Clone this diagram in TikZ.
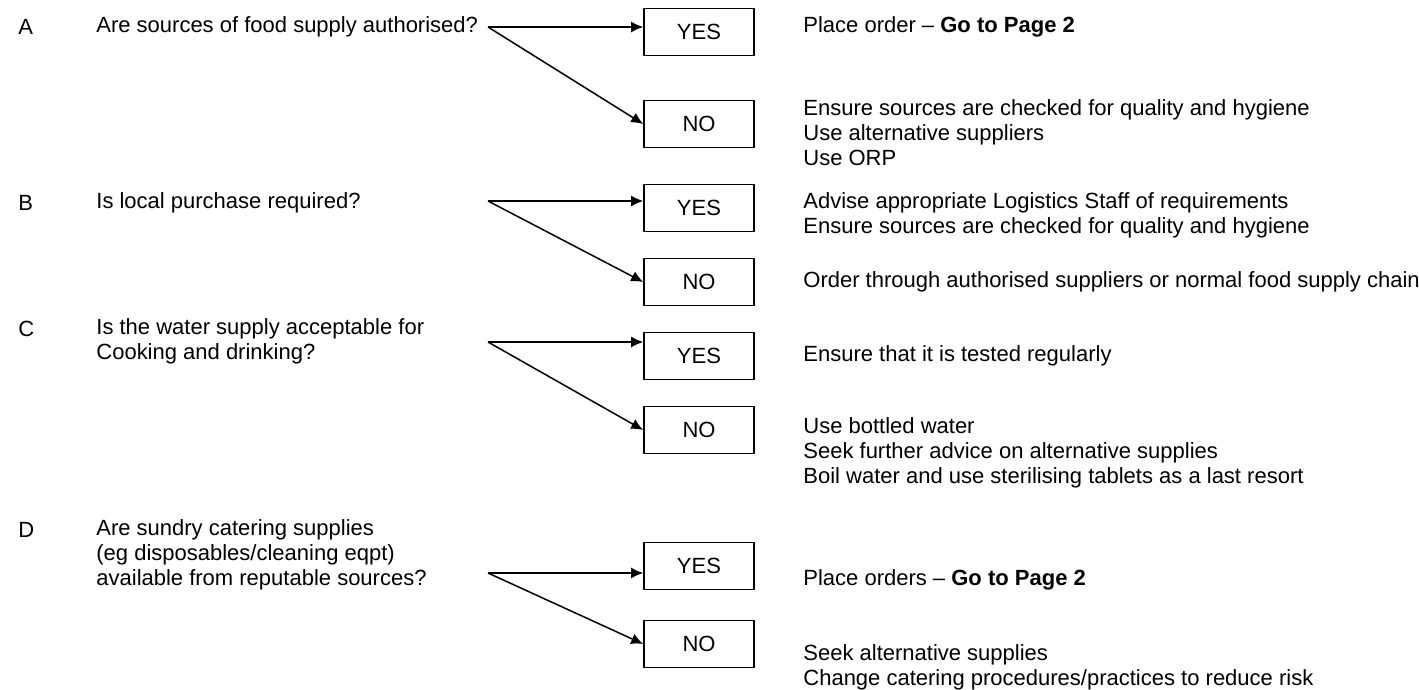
\documentclass[tikz,border=0pt]{standalone}
\usepackage{fontspec}
\setmainfont{Liberation Sans}
\usetikzlibrary{arrows.meta}

\begin{document}
\begin{tikzpicture}[x=0.5pt,y=-0.5pt,
	font=\fontsize{11}{12.5}\selectfont,
	txt/.style={anchor=west,inner sep=0pt,align=left},
	answer/.style={draw,line width=0.8pt,minimum width=55pt,minimum height=23.5pt,inner sep=0pt},
	branch/.style={line width=0.75pt,-{Latex[length=6pt,width=5.5pt]}}]
	\useasboundingbox (0,0) rectangle (1419,690);
	% A
	\node[txt] (la) at (18,27) {A};
	\node[txt] (qa) at (96,27) {Are sources of food supply authorised?};
	\coordinate (sa) at (488,27);
	\node[answer] (ya) at (699,32) {YES};
	\node[answer] (na) at (699,124) {NO};
	\node[txt] (ra) at (803,27) {Place order -- \textbf{Go to Page 2}};
	\node[txt] (ra2) at (803,133) {Ensure sources are checked for quality and hygiene\\Use alternative suppliers\\Use ORP};
	\draw[branch] (sa) -- (sa -| ya.west);
	\draw[branch] (sa) -- (na.west);
	% B
	\node[txt] (lb) at (18,203) {B};
	\node[txt] (qb) at (96,203) {Is local purchase required?};
	\coordinate (sb) at (488,201);
	\node[answer] (yb) at (699,208) {YES};
	\node[answer] (nb) at (699,282) {NO};
	\node[txt] (rb) at (803,215) {Advise appropriate Logistics Staff of requirements\\Ensure sources are checked for quality and hygiene};
	\node[txt] (rb2) at (803,282) {Order through authorised suppliers or normal food supply chain};
	\draw[branch] (sb) -- (sb -| yb.west);
	\draw[branch] (sb) -- (nb.west);
	% C
	\node[txt] (lc) at (18,329) {C};
	\node[txt] (qc) at (96,341.5) {Is the water supply acceptable for\\Cooking and drinking?};
	\coordinate (sc) at (488,342);
	\node[answer] (yc) at (699,356) {YES};
	\node[answer] (nc) at (699,430) {NO};
	\node[txt] (rc) at (803,356) {Ensure that it is tested regularly};
	\node[txt] (rc2) at (803,453) {Use bottled water\\Seek further advice on alternative supplies\\Boil water and use sterilising tablets as a last resort};
	\draw[branch] (sc) -- (sc -| yc.west);
	\draw[branch] (sc) -- (nc.west);
	% D
	\node[txt] (ld) at (18,530) {D};
	\node[txt] (qd) at (96,555) {Are sundry catering supplies\\(eg disposables/cleaning eqpt)\\available from reputable sources?};
	\coordinate (sd) at (488,573);
	\node[answer] (yd) at (699,566) {YES};
	\node[answer] (nd) at (699,644) {NO};
	\node[txt] (rd) at (803,580) {Place orders -- \textbf{Go to Page 2}};
	\node[txt] (rd2) at (803,667) {Seek alternative supplies\\Change catering procedures/practices to reduce risk};
	\draw[branch] (sd) -- (sd -| yd.west);
	\draw[branch] (sd) -- (nd.west);
\end{tikzpicture}
\end{document}
